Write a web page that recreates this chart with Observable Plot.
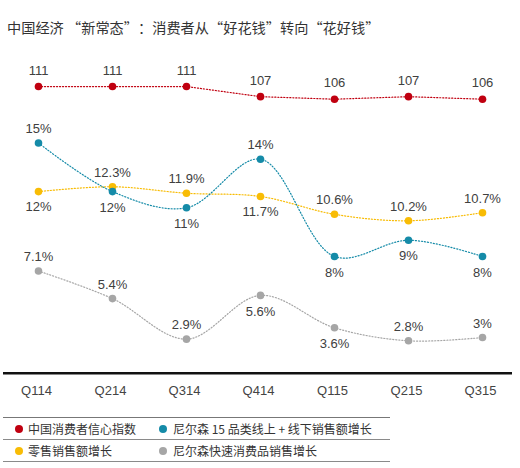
<!DOCTYPE html>
<html lang="zh-CN"><head><meta charset="utf-8">
<script src="https://cdn.jsdelivr.net/npm/d3@7"></script>
<script src="https://cdn.jsdelivr.net/npm/@observablehq/plot@0.6"></script>
<style>
body{margin:0;background:#fff;font-family:"Liberation Sans",Arial,"Noto Sans CJK SC",sans-serif;color:#333;width:520px;height:468px;overflow:hidden}
#title{height:44px;box-sizing:border-box;padding:17px 0 0 7px;font-size:14.2px;line-height:20px;font-family:"Noto Sans CJK SC",sans-serif;white-space:nowrap;color:#333}
#title .ql{display:inline-block;width:1em;text-align:right}
#title .qr{display:inline-block;width:1em;text-align:left}
#chart svg{display:block}
#legend{position:relative;margin-left:3px;width:387px;margin-top:13px;border-top:1.5px solid #777}
.row{position:relative;height:21px;border-bottom:1.5px solid #8a8a8a}
.item{position:absolute;top:0;line-height:21px;font-size:12px;font-family:"Noto Sans CJK SC",sans-serif;color:#333;white-space:nowrap}
.dot{position:absolute;width:8px;height:8px;border-radius:50%;top:6.5px}
</style></head>
<body>
<div id="title"></div>
<div id="chart"></div>
<div id="legend"></div>
<script>
const titleText = "中国经济 “新常态”：消费者从“好花钱”转向“花好钱”";
const quarters = ["Q114","Q214","Q314","Q414","Q115","Q215","Q315"];
const confidenceIndex = [111,111,111,107,106,107,106];
const nielsen15 = [15,12,11,14,8,9,8];
const retailGrowth = [12,12.3,11.9,11.7,10.6,10.2,10.7];
const fmcgGrowth = [7.1,5.4,2.9,5.6,3.6,2.8,3];
const seriesNames = ["中国消费者信心指数","尼尔森 15 品类线上 + 线下销售额增长","零售销售额增长","尼尔森快速消费品销售增长"];
const colors = ["#c00010","#158ba8","#f8bc05","#a6a6a6"];
// label side per point: 1 = above, -1 = below
const labelSide = {
  idx:[1,1,1,1,1,1,1],
  n15:[1,-1,-1,1,-1,-1,-1],
  retail:[-1,1,1,-1,1,1,1],
  fmcg:[1,1,1,-1,-1,1,1]
};

// title: give the curly quotes full-width cells, as in the reference
const titleEl = document.getElementById("title");
for (const ch of titleText) {
  if (ch === "“" || ch === "”") {
    const s = document.createElement("span");
    s.className = ch === "“" ? "ql" : "qr";
    s.textContent = ch;
    titleEl.appendChild(s);
  } else titleEl.appendChild(document.createTextNode(ch));
}

// the index is drawn on its own (hidden) axis, mapped into the percent axis
const idxToPct = d3.scaleLinear().domain([106,111]).range([17.70,18.48]);

function rows(key, vals, fmt, map){
  return vals.map((v,i)=>({key, q:quarters[i], v, y: map? map(v): v, label: fmt(v), side: labelSide[key][i]}));
}
const dIdx = rows("idx", confidenceIndex, v=>String(v), idxToPct);
const dN15 = rows("n15", nielsen15, v=>v+"%");
const dRet = rows("retail", retailGrowth, v=>v+"%");
const dFm = rows("fmcg", fmcgGrowth, v=>v+"%");

const lineStyle = {strokeWidth:1.2, strokeDasharray:"1.1,1.9"};
const txt = (data, above, below) => [
  Plot.text(data.filter(d=>d.side>0), {x:"q", y:"y", text:"label", dy:above, fill:"#404040", fontSize:13}),
  Plot.text(data.filter(d=>d.side<0), {x:"q", y:"y", text:"label", dy:below, fill:"#404040", fontSize:13})
];

const chart = Plot.plot({
  width:520, height:360,
  marginLeft:37, marginRight:38, marginTop:17.4, marginBottom:31.3,
  style:{fontFamily:"'Liberation Sans', Arial, sans-serif", color:"#333", fontSize:"13px", background:"#fff"},
  x:{type:"point", domain:quarters, padding:0, label:null},
  y:{domain:[0.8,20], axis:null},
  marks:[
    Plot.line(dIdx, {x:"q", y:"y", stroke:colors[0], ...lineStyle}),
    Plot.line(dRet, {x:"q", y:"y", stroke:colors[2], curve:"catmull-rom", ...lineStyle}),
    Plot.line(dN15, {x:"q", y:"y", stroke:colors[1], curve:"catmull-rom", ...lineStyle}),
    Plot.line(dFm, {x:"q", y:"y", stroke:colors[3], curve:"catmull-rom", ...lineStyle}),
    Plot.dot(dIdx, {x:"q", y:"y", r:3.8, fill:colors[0]}),
    Plot.dot(dRet, {x:"q", y:"y", r:3.8, fill:colors[2]}),
    Plot.dot(dN15, {x:"q", y:"y", r:3.8, fill:colors[1]}),
    Plot.dot(dFm, {x:"q", y:"y", r:3.8, fill:colors[3]}),
    ...txt(dIdx, -16, 16),
    ...txt(dN15, -14, 16),
    ...txt(dRet, -14, 15),
    ...txt(dFm, -14, 16),
    Plot.ruleY([0.8], {stroke:"#111", strokeWidth:2.5, insetLeft:-34, insetRight:-30}),
    Plot.axisX({tickSize:0, tickPadding:13, dx:-2, fontSize:13, fontWeight:"normal", label:null, fill:"#444"})
  ]
});
document.getElementById("chart").appendChild(chart);

// legend
const legend = document.getElementById("legend");
const layout = [[0,1],[2,3]];
const colLeft = [[12,25],[156,170]];
layout.forEach(r=>{
  const row = document.createElement("div"); row.className="row";
  r.forEach((si,ci)=>{
    const dot = document.createElement("span"); dot.className="dot";
    dot.style.left = colLeft[ci][0]+"px"; dot.style.background = colors[si];
    const t = document.createElement("span"); t.className="item";
    t.style.left = colLeft[ci][1]+"px"; t.textContent = seriesNames[si];
    row.appendChild(dot); row.appendChild(t);
  });
  legend.appendChild(row);
});
</script>
</body></html>
